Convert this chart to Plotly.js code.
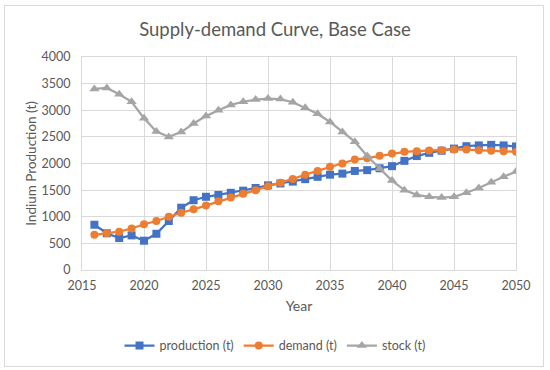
<!DOCTYPE html>
<html>
<head>
<meta charset="utf-8">
<script src="https://cdn.plot.ly/plotly-3.0.1.min.js"></script>
<style>
  html, body { margin: 0; padding: 0; background: #fff; }
  #wrap { position: relative; width: 550px; height: 370px; }
  #chart { width: 550px; height: 370px; }
  #frame { position: absolute; left: 4px; top: 5px; width: 538px; height: 360px;
           border: 1px solid #d9d9d9; pointer-events: none; }
</style>
</head>
<body>
<div id="wrap">
  <div id="chart"></div>
  <div id="frame"></div>
</div>
<script>
const years = [2016,2017,2018,2019,2020,2021,2022,2023,2024,2025,2026,2027,2028,2029,2030,2031,2032,2033,2034,2035,2036,2037,2038,2039,2040,2041,2042,2043,2044,2045,2046,2047,2048,2049,2050];
const production = [850,690,600,650,550,680,920,1170,1310,1375,1410,1450,1490,1540,1590,1625,1660,1706,1750,1790,1810,1860,1875,1910,1950,2050,2140,2200,2240,2280,2325,2340,2350,2340,2320];
const demand = [660,690,720,780,860,920,1000,1075,1140,1210,1290,1360,1430,1500,1575,1640,1710,1790,1860,1940,2000,2075,2100,2144,2188,2219,2231,2244,2250,2263,2262,2250,2238,2231,2219];
const stock = [3400,3420,3300,3160,2850,2600,2500,2590,2750,2890,3000,3100,3160,3200,3220,3210,3150,3045,2935,2780,2590,2410,2140,1900,1680,1500,1410,1375,1360,1375,1450,1540,1650,1750,1850];
const xTicks = [2015,2020,2025,2030,2035,2040,2045,2050];
const yTicks = [0,500,1000,1500,2000,2500,3000,3500,4000];

const font = "Lato, 'Open Sans', sans-serif";
const grey = "#595959";

const traces = [
  {x: years, y: production, name: "production (t)", type: "scatter", mode: "lines+markers",
   line: {color: "#4472C4", width: 2.25}, marker: {symbol: "square", size: 8, color: "#4472C4"}},
  {x: years, y: demand, name: "demand (t)", type: "scatter", mode: "lines+markers",
   line: {color: "#ED7D31", width: 2.25}, marker: {symbol: "circle", size: 8, color: "#ED7D31"}},
  {x: years, y: stock, name: "stock (t)", type: "scatter", mode: "lines+markers",
   line: {color: "#A5A5A5", width: 2.25}, marker: {symbol: "triangle-up", size: 9, color: "#A5A5A5"}}
];

const layout = {
  width: 550, height: 370,
  margin: {l: 82, r: 34, t: 57, b: 100},
  paper_bgcolor: "#fff", plot_bgcolor: "#fff",
  font: {family: font, size: 12, color: grey},
  title: {text: "Supply-demand Curve, Base Case", font: {family: font, size: 18.5, color: grey},
          x: 0.5, xanchor: "center", y: 0.921, yanchor: "middle"},
  xaxis: {range: [2015, 2050], tickvals: xTicks, ticktext: xTicks.map(String),
          showgrid: true, gridcolor: "#d9d9d9", gridwidth: 1, zeroline: false, automargin: false,
          showline: true, linecolor: "#d9d9d9", mirror: true,
          ticks: "outside", ticklen: 4, tickcolor: "rgba(0,0,0,0)",
          tickfont: {family: font, size: 12.5, color: grey},
          title: {text: "Year", font: {family: font, size: 14, color: grey}, standoff: 9}},
  yaxis: {range: [0, 4000], tickvals: yTicks, ticktext: yTicks.map(String),
          showgrid: true, gridcolor: "#d9d9d9", gridwidth: 1, zeroline: false, automargin: false,
          showline: true, linecolor: "#d9d9d9", mirror: true, ticks: "outside", ticklen: 8, tickcolor: "rgba(0,0,0,0)",
          tickfont: {family: font, size: 12.5, color: grey},
          title: {text: "Indium Production (t)", font: {family: font, size: 13.5, color: grey}, standoff: 1}},
  showlegend: true,
  legend: {orientation: "h", x: 0.5, xref: "container", xanchor: "center",
           y: 0.065, yref: "container", yanchor: "middle",
           font: {family: font, size: 12.5, color: grey}, itemwidth: 30, tracegroupgap: 0},
};

Plotly.newPlot("chart", traces, layout, {displayModeBar: false, staticPlot: true});
</script>
</body>
</html>
